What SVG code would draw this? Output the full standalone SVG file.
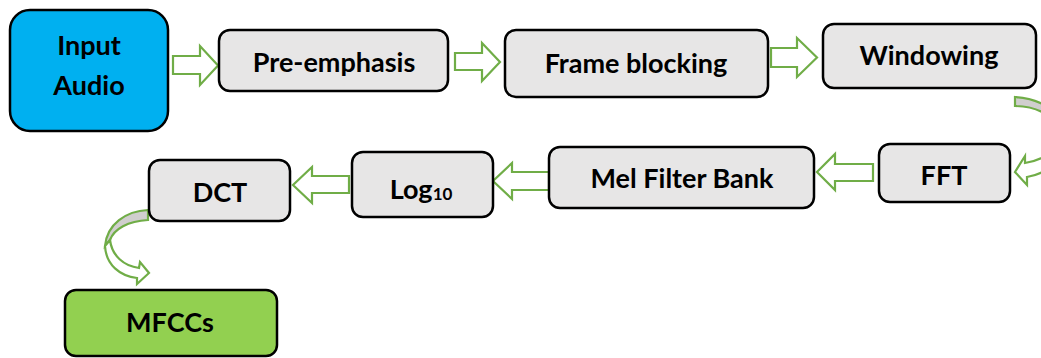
<svg xmlns="http://www.w3.org/2000/svg" width="1041" height="358" viewBox="0 0 1041 358">
  <style>
    .box { fill: #E7E6E6; stroke: #000; stroke-width: 2.5; }
    .lbl { font-family: Lato, "Liberation Sans", sans-serif; font-weight: bold; font-size: 27px; fill: #000; text-anchor: middle; }
    .arr { fill: #FFFFFF; stroke: #70AD47; stroke-width: 2.2; stroke-linejoin: miter; }
    .back { fill: #D0CECE; stroke: #70AD47; stroke-width: 2.2; }
  </style>
  <rect width="1041" height="358" fill="#FFFFFF"/>

  <!-- connectors -->
  <g id="connectors">
    <!-- straight block arrows, top row -->
    <path class="arr" d="M173,56 L200,56 L200,46 L218,65.5 L200,85 L200,74 L173,74 Z"/>
    <path class="arr" d="M455,53 L482,53 L482,43 L500,62 L482,81 L482,70 L455,70 Z"/>
    <path class="arr" d="M771,48 L797,48 L797,38 L817,57.5 L797,77 L797,67 L771,67 Z"/>
    <!-- straight block arrows, second row (pointing left) -->
    <path class="arr" d="M873,164 L835,164 L835,154 L817,172 L835,190 L835,181 L873,181 Z"/>
    <path class="arr" d="M549,172 L512,172 L512,163 L493,181 L512,199 L512,190 L549,190 Z"/>
    <path class="arr" d="M349,176 L312,176 L312,167 L293,185 L312,203 L312,193 L349,193 Z"/>
    <!-- curved arrow: Windowing to FFT -->
    <path class="back" d="M1015,97 C1042,98 1064,114 1066,140 L1060,134 C1056,117 1038,106 1015,106 Z"/>
    <path class="arr" d="M1066,140 C1064,160 1046,174 1027,177 L1027,185 L1015,172 L1025,156 L1025,163 C1044,160 1058,150 1060,134 Z"/>
    <!-- curved arrow: DCT to MFCCs -->
    <path class="back" d="M148,210 C126,211 107,224 105,246 L110,240 C114,229 128,221 148,220 Z"/>
    <path class="arr" d="M105,246 C106,265 120,276 137,278 L137,284 L149,273 L140,262 L139,268 C124,266 112,256 110,240 Z"/>
  </g>

  <g id="node-input">
    <rect x="10" y="10" width="158" height="121" rx="20" fill="#00B0F0" stroke="#000" stroke-width="2.5"/>
    <text class="lbl" x="89" y="55">Input</text>
    <text class="lbl" x="89" y="95">Audio</text>
  </g>
  <g id="node-preemphasis">
    <rect class="box" x="219" y="30" width="229" height="61" rx="11"/>
    <text class="lbl" x="334" y="72">Pre-emphasis</text>
  </g>
  <g id="node-frame">
    <rect class="box" x="505" y="30" width="263" height="67" rx="11"/>
    <text class="lbl" x="636" y="73">Frame blocking</text>
  </g>
  <g id="node-windowing">
    <rect class="box" x="823" y="24" width="213" height="64" rx="11"/>
    <text class="lbl" x="929" y="65">Windowing</text>
  </g>
  <g id="node-fft">
    <rect class="box" x="879" y="144" width="131" height="58" rx="11"/>
    <text class="lbl" x="944" y="185">FFT</text>
  </g>
  <g id="node-mel">
    <rect class="box" x="549" y="147" width="265" height="61" rx="11"/>
    <text class="lbl" x="682" y="188">Mel Filter Bank</text>
  </g>
  <g id="node-log">
    <rect class="box" x="352" y="152" width="141" height="65" rx="11"/>
    <text class="lbl" x="421" y="199">Log<tspan font-size="17px" dy="1">10</tspan></text>
  </g>
  <g id="node-dct">
    <rect class="box" x="149" y="160" width="141" height="61" rx="11"/>
    <text class="lbl" x="220" y="202">DCT</text>
  </g>
  <g id="node-mfccs">
    <rect x="65" y="290" width="212" height="66" rx="11" fill="#92D050" stroke="#000" stroke-width="2.5"/>
    <text class="lbl" x="170" y="332">MFCCs</text>
  </g>
</svg>
